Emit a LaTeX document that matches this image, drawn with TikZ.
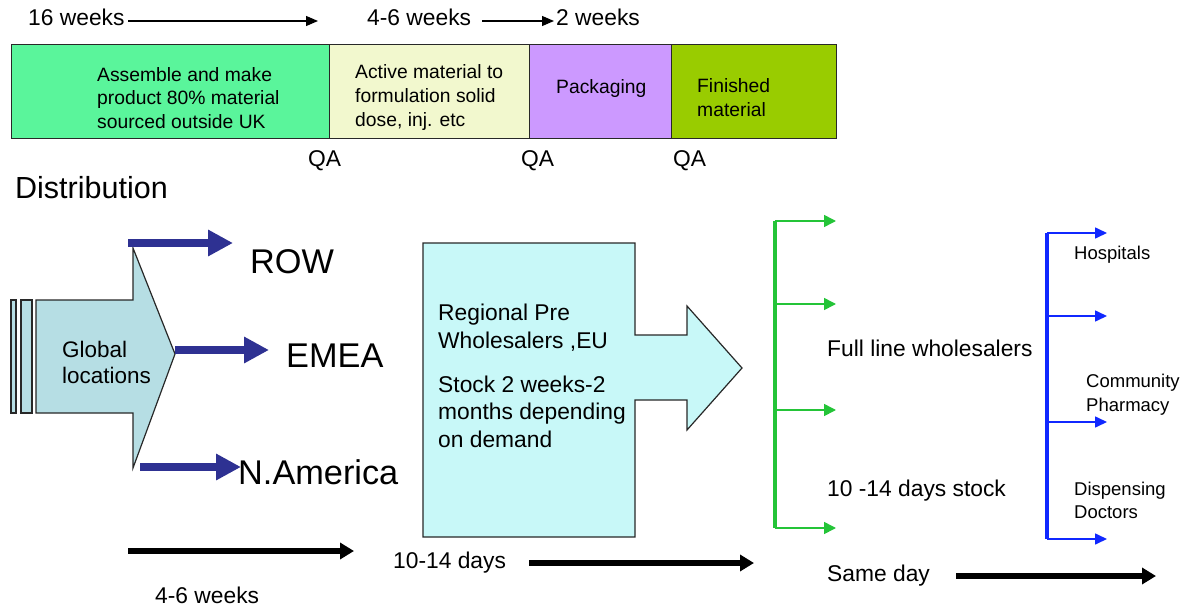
\documentclass[tikz,border=0pt]{standalone}
\usepackage{fontspec}
\setmainfont{Liberation Sans}
\usetikzlibrary{arrows.meta}

\definecolor{stageA}{RGB}{90,245,155}
\definecolor{stageB}{RGB}{242,248,206}
\definecolor{stageC}{RGB}{204,153,255}
\definecolor{stageD}{RGB}{153,204,0}
\definecolor{globalfill}{RGB}{182,222,228}
\definecolor{regionfill}{RGB}{200,248,248}
\definecolor{navy}{RGB}{46,49,146}
\definecolor{wsgreen}{RGB}{36,196,56}
\definecolor{wsblue}{RGB}{16,40,255}
\definecolor{edge}{RGB}{40,40,40}

\newcommand\fsz[2]{\fontsize{#1}{#2}\selectfont}

\begin{document}
\begin{tikzpicture}[x=1pt,y=-1pt,
  lbl/.style={inner sep=0pt, anchor=base west},
  para/.style={inner sep=0pt, anchor=north west, align=left},
  stagebox/.style={draw=edge, line width=1.3pt, anchor=north west, minimum height=94pt, inner sep=0pt},
  thinarrow/.style={line width=1.2pt, -{Triangle[length=12pt,width=10pt]}},
  navyarrow/.style={navy, line width=8pt, -{Triangle[length=25pt,width=25pt]}},
  bigarrow/.style={black, line width=5.5pt, -{Triangle[length=14pt,width=16pt]}},
  greenbranch/.style={wsgreen, line width=1.6pt, -{Triangle[length=12pt,width=12pt]}},
  bluebranch/.style={wsblue, line width=1.6pt, -{Triangle[length=12pt,width=11pt]}},
  outline/.style={draw=edge, line width=1.2pt, line join=miter}
]
\useasboundingbox (0,0) rectangle (1192,607);

% ---------- production stages ----------
\node[stagebox, fill=stageA, minimum width=318pt] (assemble) at (11,44) {};
\node[stagebox, fill=stageB, minimum width=200pt] (active) at (329,44) {};
\node[stagebox, fill=stageC, minimum width=142pt] (packaging) at (529,44) {};
\node[stagebox, fill=stageD, minimum width=165pt] (finished) at (671,44) {};

\node[para, font=\fsz{19.3}{23.5}] (assembleTxt) at (97,67) {Assemble and make\\product 80\% material\\sourced outside UK};
\node[para, font=\fsz{19.3}{24}] (activeTxt) at (355,64) {Active material to\\formulation solid\\dose, inj. etc};
\node[lbl, font=\fsz{19.3}{24}] (packTxt) at (556,94) {Packaging};
\node[para, font=\fsz{19.3}{24}] (finishedTxt) at (697,78) {Finished\\material};

% lead times along the top
\node[lbl, font=\fsz{22.8}{26}] (t16) at (28,26) {16 weeks};
\node[lbl, font=\fsz{22.8}{26}] (t46) at (367,26) {4-6 weeks};
\node[lbl, font=\fsz{22.8}{26}] (t2) at (556,26) {2 weeks};
\coordinate (a1s) at (128,21);
\coordinate (a1e) at (318,21);
\coordinate (a2s) at (482,21);
\coordinate (a2e) at (554,21);
\draw[thinarrow] (a1s) -- (a1e);
\draw[thinarrow] (a2s) -- (a2e);

% quality checkpoints
\node[lbl, font=\fsz{22.8}{26}] (qa1) at (308,167) {QA};
\node[lbl, font=\fsz{22.8}{26}] (qa2) at (521,167) {QA};
\node[lbl, font=\fsz{22.8}{26}] (qa3) at (673,167) {QA};

\node[lbl, font=\fsz{30.5}{34}] (dist) at (15,198) {Distribution};

% ---------- global locations ----------
\draw[outline, fill=globalfill] (11,300) rectangle (16,413);
\draw[outline, fill=globalfill] (21,300) rectangle (32,413);
\draw[outline, fill=globalfill] (36,300) -- (133,300) -- (133,248) -- (175,354)
  -- (133,468) -- (133,413) -- (36,413) -- cycle;
\node[para, font=\fsz{22.5}{26}] (globalTxt) at (62,341) {Global\\locations};

\coordinate (rowS) at (128,243);
\coordinate (rowE) at (233,243);
\coordinate (emeaS) at (175,350);
\coordinate (emeaE) at (269,350);
\coordinate (naS) at (140,467);
\coordinate (naE) at (241,467);
\draw[navyarrow] (rowS) -- (rowE);
\draw[navyarrow] (emeaS) -- (emeaE);
\draw[navyarrow] (naS) -- (naE);
\node[lbl, font=\fsz{34.3}{38}] (row) at (250,273) {ROW};
\node[lbl, font=\fsz{34.3}{38}] (emea) at (286,367) {EMEA};
\node[lbl, font=\fsz{34.3}{38}] (na) at (238,484) {N.America};

% ---------- regional pre-wholesalers ----------
\draw[outline, fill=regionfill] (423,243) -- (635,243) -- (635,335) -- (687,335)
  -- (687,306) -- (742,368) -- (687,430) -- (687,400) -- (635,400) -- (635,537)
  -- (423,537) -- cycle;
\node[para, font=\fsz{22.8}{28}] (regTxt) at (438,303.5) {Regional Pre\\Wholesalers ,EU};
\node[para, font=\fsz{22.8}{27.5}] (stockTxt) at (438,375.5) {Stock 2 weeks-2\\months depending\\on demand};

% ---------- full line wholesalers ----------
\coordinate (gTop) at (775,221);
\coordinate (gBot) at (775,528);
\draw[wsgreen, line width=4pt] (gTop) -- (gBot);
\foreach \yy [count=\i] in {221,304,410,528}{
  \coordinate (gs\i) at (775,\yy);
  \coordinate (ge\i) at (836,\yy);
  \draw[greenbranch] (gs\i) -- (ge\i);
}
\node[lbl, font=\fsz{22.8}{26}] (fullTxt) at (827,356) {Full line wholesalers};
\node[lbl, font=\fsz{22.8}{26}] (daysTxt) at (827,496) {10 -14 days stock};

% ---------- end customers ----------
\coordinate (bTop) at (1047,233);
\coordinate (bBot) at (1047,539);
\draw[wsblue, line width=4pt] (bTop) -- (bBot);
\foreach \yy [count=\i] in {233,316,422,539}{
  \coordinate (bs\i) at (1047,\yy);
  \coordinate (be\i) at (1107,\yy);
  \draw[bluebranch] (bs\i) -- (be\i);
}
\node[lbl, font=\fsz{18.5}{23}] (hosp) at (1074,259) {Hospitals};
\node[para, font=\fsz{18.5}{24}] (comm) at (1086,373.5) {Community\\Pharmacy};
\node[para, font=\fsz{18.5}{23}] (disp) at (1074,481.5) {Dispensing\\Doctors};

% ---------- transit times ----------
\coordinate (t1s) at (128,551);
\coordinate (t1e) at (354,551);
\coordinate (t2s) at (529,563);
\coordinate (t2e) at (754,563);
\coordinate (t3s) at (956,576);
\coordinate (t3e) at (1156,576);
\draw[bigarrow] (t1s) -- (t1e);
\draw[bigarrow] (t2s) -- (t2e);
\draw[bigarrow] (t3s) -- (t3e);
\node[lbl, font=\fsz{22.8}{26}] (w46) at (155,603) {4-6 weeks};
\node[lbl, font=\fsz{22.8}{26}] (d1014) at (393,568) {10-14 days};
\node[lbl, font=\fsz{22.8}{26}] (same) at (827,581) {Same day};
\end{tikzpicture}
\end{document}
